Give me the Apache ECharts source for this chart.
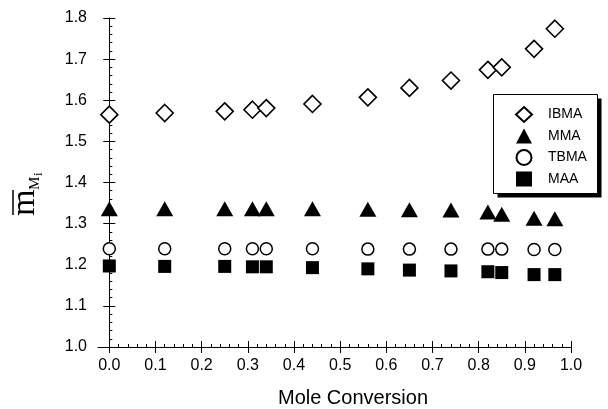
<!DOCTYPE html>
<html>
<head>
<meta charset="utf-8">
<title>Mole Conversion</title>
<script src="https://cdn.jsdelivr.net/npm/echarts@6.0.0/dist/echarts.min.js"></script>
</head>
<body style="margin:0;background:#fff">
<div id="main" style="width:608px;height:409px"></div>
<script>
// data
var conversion = [0.0, 0.12, 0.25, 0.31, 0.34, 0.44, 0.56, 0.65, 0.74, 0.82, 0.85, 0.92, 0.965];
var ibma = [1.565, 1.569, 1.573, 1.577, 1.581, 1.591, 1.607, 1.630, 1.648, 1.674, 1.680, 1.725, 1.774];
var mma  = [1.336, 1.336, 1.336, 1.336, 1.336, 1.336, 1.335, 1.334, 1.333, 1.328, 1.323, 1.313, 1.312];
var tbma = [1.239, 1.239, 1.239, 1.239, 1.239, 1.239, 1.238, 1.238, 1.238, 1.238, 1.238, 1.237, 1.237];
var maa  = [1.197, 1.196, 1.196, 1.195, 1.195, 1.193, 1.190, 1.187, 1.185, 1.183, 1.181, 1.176, 1.176];

var xTicks = [0, 0.1, 0.2, 0.3, 0.4, 0.5, 0.6, 0.7, 0.8, 0.9, 1.0];
var xMinor = [];
for (var k = 0; k <= 50; k++) xMinor.push(+(k * 0.02).toFixed(2));

function pairs(ys) {
    return conversion.map(function (x, i) { return [x, ys[i]]; });
}

var black = '#000';
var labelFont = 'Liberation Sans';
var serif = 'Liberation Serif';

var myChart = echarts.init(document.getElementById('main'));

var xBase = {
    type: 'value', gridIndex: 0, position: 'bottom',
    min: -0.0245, max: 1.0,
    splitLine: {show: false}
};
var yBase = {
    type: 'value', gridIndex: 0, position: 'left',
    min: 1.0, max: 1.8, interval: 0.1,
    splitLine: {show: false}
};

myChart.setOption({
    backgroundColor: '#fff',
    animation: false,
    grid: {left: 98, right: 37, top: 18, bottom: 62, containLabel: false},
    xAxis: [
        Object.assign({}, xBase, {
            axisLine: {lineStyle: {color: black, width: 1}},
            axisTick: {customValues: xTicks, length: 6, inside: false, lineStyle: {color: black}},
            axisLabel: {
                customValues: xTicks, margin: 11, color: black, fontSize: 16, fontFamily: labelFont,
                formatter: function (v) { return v.toFixed(1); }
            }
        }),
        Object.assign({}, xBase, {
            axisLine: {show: false},
            axisTick: {customValues: xTicks, length: 6, inside: true, lineStyle: {color: black}},
            axisLabel: {show: false}
        }),
        Object.assign({}, xBase, {
            axisLine: {show: false},
            axisTick: {customValues: xMinor, length: 3, inside: true, lineStyle: {color: black}},
            axisLabel: {show: false}
        })
    ],
    yAxis: [
        Object.assign({}, yBase, {
            axisLine: {show: true, lineStyle: {color: black, width: 1}},
            axisTick: {show: true, length: 6, inside: false, lineStyle: {color: black}},
            axisLabel: {
                margin: 11, color: black, fontSize: 16, fontFamily: labelFont,
                formatter: function (v) { return v.toFixed(1); }
            }
        }),
        Object.assign({}, yBase, {
            axisLine: {show: false},
            axisTick: {show: true, length: 6, inside: true, lineStyle: {color: black}},
            minorTick: {show: true, splitNumber: 5, length: 3, lineStyle: {color: black}},
            axisLabel: {show: false}
        })
    ],
    legend: {
        orient: 'vertical',
        left: 493, top: 94, z: 20,
        padding: [12, 11, 8, 22],
        itemWidth: 16, itemHeight: 15, itemGap: 5.5,
        textStyle: {color: black, fontSize: 14, fontFamily: labelFont, padding: [0, 0, 0, 11]},
        data: ['IBMA', 'MMA', 'TBMA', 'MAA']
    },
    series: [
        {
            name: 'IBMA', type: 'scatter', symbol: 'diamond', symbolSize: 17,
            itemStyle: {color: '#fff', borderColor: black, borderWidth: 1.6, opacity: 1},
            data: pairs(ibma)
        },
        {
            name: 'MMA', type: 'scatter', symbol: 'triangle', symbolSize: [17, 15],
            itemStyle: {color: black, opacity: 1},
            data: pairs(mma)
        },
        {
            name: 'TBMA', type: 'scatter', symbol: 'circle', symbolSize: 12,
            itemStyle: {color: '#fff', borderColor: black, borderWidth: 1.5, opacity: 1},
            data: pairs(tbma)
        },
        {
            name: 'MAA', type: 'scatter', symbol: 'rect', symbolSize: 13,
            itemStyle: {color: black, opacity: 1},
            data: pairs(maa)
        }
    ],
    graphic: [
        {
            // legend frame with its drop shadow
            type: 'group', z: 15,
            children: [
                {type: 'rect', shape: {x: 497.5, y: 98.5, width: 104, height: 99}, style: {fill: black}},
                {type: 'rect', shape: {x: 493.5, y: 94.5, width: 104, height: 99}, style: {fill: '#fff', stroke: black, lineWidth: 1}}
            ]
        },
        {
            // y axis title: m-bar with subscript M_i, read bottom to top
            type: 'group', x: 25, y: 216, rotation: Math.PI / 2,
            children: [
                {type: 'text', x: 0, y: 0, style: {text: 'm', fontSize: 34, fontFamily: serif, fill: black, align: 'left', verticalAlign: 'middle'}},
                {type: 'line', shape: {x1: 1, y1: -12, x2: 26, y2: -12}, style: {stroke: black, lineWidth: 1.5}},
                {type: 'text', x: 26, y: 10.5, style: {text: 'M', fontSize: 15, fontFamily: serif, fill: black, align: 'left', verticalAlign: 'middle'}},
                {type: 'text', x: 40, y: 14, style: {text: 'i', fontSize: 13, fontFamily: serif, fill: black, align: 'left', verticalAlign: 'middle'}}
            ]
        },
        {
            type: 'text', x: 353, y: 398,
            style: {text: 'Mole Conversion', fontSize: 20, fontFamily: labelFont, fill: black, align: 'center', verticalAlign: 'middle'}
        }
    ]
});
</script>
</body>
</html>
